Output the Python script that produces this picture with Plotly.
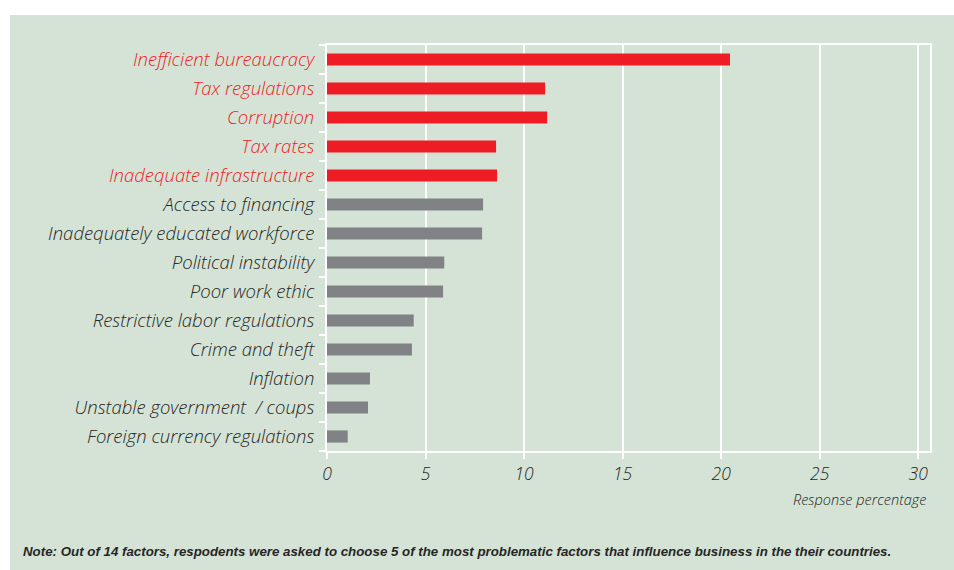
import plotly.graph_objects as go

factors = [
    "Inefficient bureaucracy",
    "Tax regulations",
    "Corruption",
    "Tax rates",
    "Inadequate infrastructure",
    "Access to financing",
    "Inadequately educated workforce",
    "Political instability",
    "Poor work ethic",
    "Restrictive labor regulations",
    "Crime and theft",
    "Inflation",
    "Unstable government  / coups",
    "Foreign currency regulations",
]
values = [20.45, 11.07, 11.17, 8.58, 8.63, 7.92, 7.87, 5.95, 5.89, 4.40, 4.31, 2.18, 2.08, 1.05]
top_n = 5
x_ticks = [0, 5, 10, 15, 20, 25, 30]

RED = "#ee1c25"
GRAY = "#808285"
GREEN = "#d4e3d5"
TXT = "#262626"

colors = [RED if i < top_n else GRAY for i in range(len(factors))]
ticktext = [
    f"<span style='color:{RED if i < top_n else TXT}'>{f}</span>"
    for i, f in enumerate(factors)
]

fig = go.Figure()
fig.add_trace(go.Bar(
    x=values, y=factors, orientation="h",
    marker=dict(color=colors, line=dict(width=0)),
    width=0.42, hoverinfo="x+y",
))

L, R, T, B = 327, 24, 45, 119
W, H = 954, 570
pw, ph = W - L - R, H - T - B

def px_x(x):
    return (x - L) / pw

def px_y(y):
    return (H - B - y) / ph

fig.add_shape(type="rect", xref="paper", yref="paper",
              x0=px_x(10), x1=px_x(956), y0=px_y(572), y1=px_y(15),
              fillcolor=GREEN, line=dict(width=0), layer="below")

fig.update_layout(
    width=W, height=H,
    margin=dict(l=L, r=R, t=T, b=B, pad=0),
    paper_bgcolor="white",
    plot_bgcolor="rgba(0,0,0,0)",
    showlegend=False,
    bargap=0.58,
    font=dict(family="Open Sans, sans-serif", color=TXT),
)
fig.update_xaxes(
    range=[0, 30.6], tickvals=x_ticks, ticktext=[str(v) for v in x_ticks],
    showgrid=True, gridcolor="white", gridwidth=2,
    showline=True, linecolor="white", linewidth=2, mirror=True,
    ticks="outside", ticklen=6, tickwidth=2, tickcolor="white",
    tickfont=dict(size=17.5, style="italic", weight=300, color=TXT),
    zeroline=False, fixedrange=True,
)
fig.update_yaxes(
    type="category", categoryorder="array", categoryarray=factors,
    autorange="reversed",
    tickvals=factors, ticktext=ticktext, tickson="boundaries",
    showline=True, linecolor="white", linewidth=2, mirror=True,
    ticks="outside", ticklen=6, tickwidth=2, tickcolor="white",
    ticklabelstandoff=7,
    tickfont=dict(size=18.5, style="italic", weight=300, color=TXT),
    showgrid=False, fixedrange=True,
)

fig.add_annotation(
    text="Response percentage", xref="paper", yref="paper",
    x=px_x(928), y=px_y(500), xanchor="right", yanchor="middle",
    showarrow=False, font=dict(size=14.5, style="italic", weight=300, color=TXT),
)
fig.add_annotation(
    text="<b>Note: Out of 14 factors, respodents were asked to choose 5 of the most problematic factors that influence business in the their countries.</b>",
    xref="paper", yref="paper",
    x=px_x(21), y=px_y(551), xanchor="left", yanchor="middle",
    showarrow=False,
    font=dict(size=13.3, style="italic", color=TXT,
              family="Liberation Sans, Arial, sans-serif"),
)

fig.write_html(
    "out.html",
    config={"displayModeBar": False},
    post_script="document.body.style.margin='0';document.body.style.padding='0';",
)
